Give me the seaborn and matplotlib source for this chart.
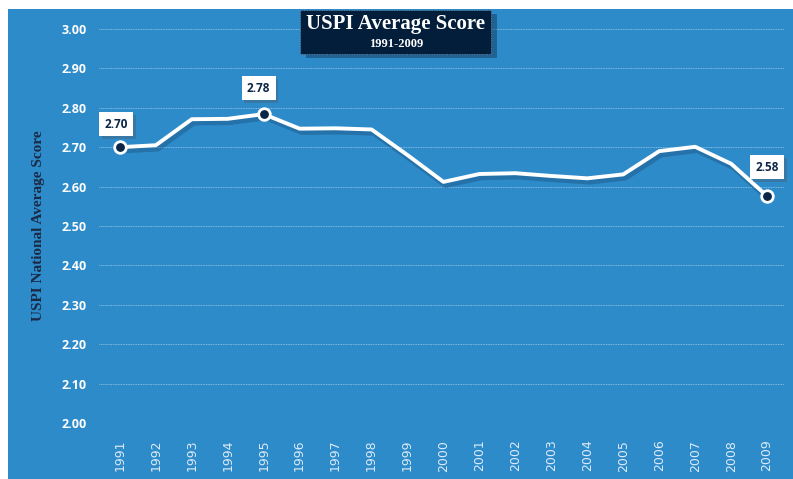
import pandas as pd
import seaborn as sns
import matplotlib.pyplot as plt
import matplotlib.patheffects as pe
from matplotlib.patches import Rectangle

# data
years = [1991, 1992, 1993, 1994, 1995, 1996, 1997, 1998, 1999, 2000,
         2001, 2002, 2003, 2004, 2005, 2006, 2007, 2008, 2009]
scores = [2.700, 2.705, 2.771, 2.772, 2.784, 2.747, 2.748, 2.745, 2.680, 2.612,
          2.632, 2.634, 2.627, 2.621, 2.631, 2.690, 2.701, 2.658, 2.576]
labelled_years = [1991, 1995, 2009]
label_texts = ['2.70', '2.78', '2.58']
label_offsets = [(-4, 23), (-5, 26), (0, 29)]   # pixels above the point
y_ticks = [2.0, 2.1, 2.2, 2.3, 2.4, 2.5, 2.6, 2.7, 2.8, 2.9, 3.0]

BLUE = '#2e8bca'
NAVY = '#0b2646'

df = pd.DataFrame({'year': years, 'score': scores})

sns.set_style('white')
fig = plt.figure(figsize=(7.93, 4.79), dpi=100)
fig.patch.set_facecolor('white')
# blue panel behind everything
fig.patches.append(Rectangle((8 / 793, 0), 1 - 8 / 793, 1 - 9 / 479,
                             transform=fig.transFigure, facecolor=BLUE,
                             edgecolor='none', zorder=-5))

ax = fig.add_axes([99 / 793, 1 - 423 / 479, (784 - 99) / 793, (423 - 29) / 479])
ax.set_facecolor('none')
ax.set_zorder(1)

sns.lineplot(data=df, x='year', y='score', ax=ax, color='white', linewidth=2.8,
             zorder=3,
             path_effects=[pe.SimpleLineShadow(offset=(1.5, -2.5), shadow_color='#0a2a4a',
                                               alpha=0.25, linewidth=4),
                           pe.Normal()])

sub = df[df['year'].isin(labelled_years)]
ax.scatter(sub['year'], sub['score'], s=70, color=NAVY, edgecolor='white',
           linewidth=2, zorder=5)

for yr, txt, (dx, dy) in zip(labelled_years, label_texts, label_offsets):
    val = df.loc[df['year'] == yr, 'score'].iloc[0]
    ax.annotate(txt, (yr, val), xytext=(dx, dy), textcoords='offset pixels',
                ha='center', va='center', fontsize=8.5, fontweight='bold',
                family='Open Sans', color=NAVY, zorder=6,
                bbox=dict(boxstyle='square,pad=0.45', facecolor='white',
                          edgecolor='none',
                          path_effects=[pe.SimplePatchShadow(offset=(2, -2), alpha=0.3),
                                        pe.Normal()]))

ax.set_xlim(1990.42, 2009.47)
ax.set_ylim(2.0, 3.0)
ax.set_xticks(years)
ax.set_xticklabels([str(y) for y in years], rotation=90, color='#dcebf7',
                   fontsize=9, family='DejaVu Sans')
ax.set_yticks(y_ticks)
ax.set_yticklabels([f'{v:.2f}' for v in y_ticks], color='white', fontsize=9,
                   fontweight='bold', family='Open Sans')
ax.tick_params(axis='x', length=0, pad=12)
ax.tick_params(axis='y', length=0, pad=9)
ax.grid(axis='y', color='white', linestyle=(0, (1, 1)), linewidth=0.6, alpha=0.55)
ax.grid(axis='x', visible=False)
for s in ax.spines.values():
    s.set_visible(False)
ax.set_xlabel('')
ax.set_ylabel('USPI National Average Score', family='Liberation Serif',
              fontweight='bold', fontsize=11, color='#1b2a45', labelpad=12)

# title box
fig.text(396 / 793, 1 - 24 / 479, 'USPI Average Score', ha='center', va='center',
         family='Liberation Serif', fontweight='bold', fontsize=15, color='white',
         zorder=10)
fig.text(396 / 793, 1 - 44 / 479, '1991-2009', ha='center', va='center',
         family='Liberation Serif', fontweight='bold', fontsize=9, color='white',
         zorder=10)
fig.patches.append(Rectangle((300 / 793, 1 - 54 / 479), 191 / 793, 44 / 479,
                             transform=fig.transFigure, facecolor='#031e3a',
                             edgecolor='#6f8fb0', linestyle=(0, (1, 1)), linewidth=0.6,
                             zorder=9,
                             path_effects=[pe.SimplePatchShadow(offset=(4, -3), alpha=0.3),
                                           pe.Normal()]))

plt.savefig('out.png', dpi=100)
